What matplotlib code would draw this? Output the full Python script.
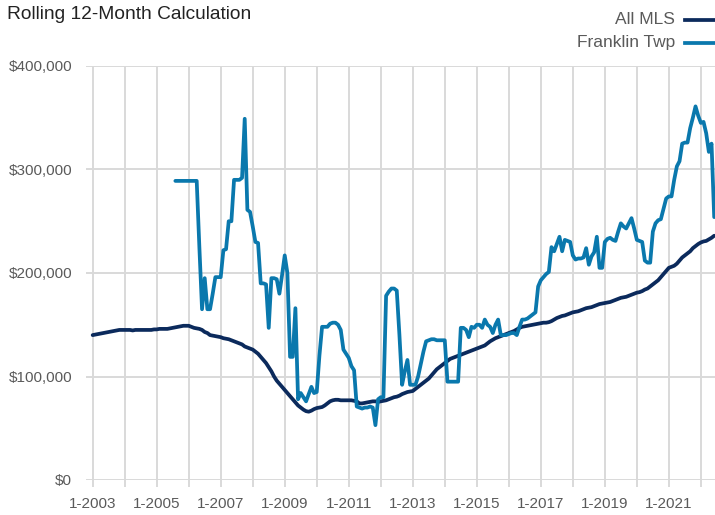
import numpy as np
import matplotlib
matplotlib.use("Agg")
import matplotlib.pyplot as plt
from matplotlib.lines import Line2D
from matplotlib.ticker import FixedLocator, FuncFormatter

# monthly values in $1000s, month index 0 = 1-2003
all_mls = [
    140, 140.5, 141, 141.5, 142, 142.5, 143, 143.5, 144, 144.5, 145, 145,          # 2003
    145, 145, 145, 144.5, 145, 145, 145, 145, 145, 145, 145, 145.5,                # 2004
    145.5, 146, 146, 146, 146, 146.5, 147, 147.5, 148, 148.5, 149, 149,            # 2005
    149, 148, 147, 146.5, 146, 145, 143, 142, 140, 139.5, 139, 138.5,              # 2006
    138, 137, 136.5, 136, 135, 134, 133, 132, 131, 129, 128, 127,                  # 2007
    126, 124, 122, 119, 116, 113, 109, 105, 100, 96, 93, 90,                       # 2008
    87, 84, 81, 78, 75, 72, 70, 68, 66.5, 66, 67, 68.5,                            # 2009
    69.5, 70, 70.5, 72, 74, 76, 77, 77.5, 77.5, 77, 77, 77,                        # 2010
    77, 77, 76.5, 76, 74, 74, 74.5, 75, 75.5, 76, 76, 75.5,                        # 2011
    76, 76.5, 77, 78, 79, 80, 80.5, 81.5, 83, 84, 85, 85.5,                        # 2012
    86, 88, 90, 92, 94, 96, 98, 101, 104, 107, 109, 111,                           # 2013
    113, 115, 117, 118, 119, 120, 121, 122, 123, 124, 125, 126,                    # 2014
    127, 128, 129, 130, 132, 134, 135.5, 137, 138, 139, 140, 141,                  # 2015
    142, 143, 144, 145.5, 147, 148, 148.5, 149, 149.5, 150, 150.5, 151,            # 2016
    151.5, 152, 152, 152.5, 153.5, 155, 156.5, 157.5, 158.5, 159, 160, 161,        # 2017
    162, 162.5, 163, 164, 165, 166, 166.5, 167, 168, 169, 170, 170.5,              # 2018
    171, 171.5, 172, 173, 174, 175, 176, 176.5, 177, 178, 179, 180,                # 2019
    181, 181.5, 182.5, 184, 185, 187, 189, 191, 193, 196, 199, 202,                # 2020
    205, 206, 207, 209, 212, 215, 217, 219, 221, 224, 226, 228,                    # 2021
    229.5, 230.5, 231, 232.5, 234, 236,                                            # 2022
]

franklin_start = 31  # 8-2005
franklin = [
    289, 289, 289, 289, 289,                                                       # 2005
    289, 289, 289, 289, 225, 165, 195, 165, 165, 180, 196, 196,                    # 2006
    196, 222, 223, 250, 250, 290, 290, 290, 292, 349, 261, 259,                    # 2007
    245, 230, 229, 190, 190, 189, 147, 195, 195, 194, 180, 198,                    # 2008
    217, 200, 119, 119, 166, 78, 84, 80, 76, 83, 90, 84,                           # 2009
    85, 120, 148, 148, 148, 151, 152, 152, 150, 145, 126, 122,                     # 2010
    118, 110, 106, 71, 70, 69, 70, 70, 71, 70, 53, 78,                             # 2011
    80, 80, 178, 182, 185, 185, 183, 140, 92, 105, 116, 92,                        # 2012
    92, 92, 100, 112, 124, 134, 135, 136, 136, 135, 135, 135,                      # 2013
    135, 95, 95, 95, 95, 95, 147, 147, 145, 138, 148, 147,                         # 2014
    150, 150, 147, 155, 150, 148, 142, 150, 155, 140, 140, 140,                    # 2015
    141, 142, 142, 140, 148, 155, 155, 156, 158, 160, 162, 187,                    # 2016
    193, 196, 199, 201, 225, 221, 228, 235, 221, 232, 231, 230,                    # 2017
    217, 213, 214, 214, 215, 224, 208, 216, 220, 235, 205, 205,                    # 2018
    230, 233, 234, 232, 231, 240, 248, 245, 243, 248, 253, 243,                    # 2019
    232, 231, 230, 212, 210, 210, 240, 248, 251, 252, 262, 272,                    # 2020
    274, 274, 290, 303, 308, 325, 326, 326, 340, 350, 361, 352,                    # 2021
    345, 346, 335, 317, 325, 254,                                                  # 2022
]

years = list(range(2003, 2023))
label_years = [2003, 2005, 2007, 2009, 2011, 2013, 2015, 2017, 2019, 2021]
series_names = ["All MLS", "Franklin Twp"]
colors = ["#0b2a5c", "#0a78ad"]

plt.rcParams['font.family'] = ['Liberation Sans', 'DejaVu Sans']

W, H = 715, 515
fig = plt.figure(figsize=(W / 100, H / 100), dpi=100)
ax = fig.add_axes([86 / W, 35 / H, (W - 86) / W, (480 - 66) / H])

x_all = np.arange(len(all_mls))
x_fr = np.arange(franklin_start, franklin_start + len(franklin))
ax.plot(x_all, np.array(all_mls) * 1000, color=colors[0], lw=2.7,
        solid_joinstyle='round', solid_capstyle='round', zorder=3)
ax.plot(x_fr, np.array(franklin) * 1000, color=colors[1], lw=2.7,
        solid_joinstyle='round', solid_capstyle='round', zorder=4)

ax.set_xlim(-2.5, 233.3)
ax.set_ylim(0, 400000)

year_pos = [(y - 2003) * 12 for y in years]
label_pos = [(y - 2003) * 12 for y in label_years]
ax.xaxis.set_major_locator(FixedLocator(label_pos))
ax.xaxis.set_minor_locator(FixedLocator([p for p in year_pos if p not in label_pos]))
ax.set_xticklabels(["1-%d" % y for y in label_years])
ax.set_yticks([0, 100000, 200000, 300000, 400000])
ax.yaxis.set_major_formatter(FuncFormatter(lambda v, p: "${:,.0f}".format(v)))

grid_c = "#d9d9d9"
ax.grid(True, which='both', axis='x', color=grid_c, lw=1.4)
ax.grid(True, which='major', axis='y', color=grid_c, lw=1.4)
ax.set_axisbelow(True)
for s in ax.spines.values():
    s.set_visible(False)
ax.tick_params(axis='x', which='both', length=5, width=1.4, color=grid_c,
               pad=7.5, labelsize=11, labelcolor="#5a5a5a")
ax.tick_params(axis='y', length=0, pad=10, labelsize=11, labelcolor="#5a5a5a")

fig.text(7 / W, 1 - 19 / H, "Rolling 12-Month Calculation", fontsize=13.8,
         color="#222222", va='baseline', ha='left')

# legend, top right
for i, (name, c) in enumerate(zip(series_names, colors)):
    yy = 1 - (20 + 23 * i) / H
    fig.text(675 / W, yy, name, fontsize=12.5, color="#5a5a5a", ha='right', va='center')
    fig.add_artist(Line2D([685 / W, 1.0], [yy, yy], transform=fig.transFigure,
                          color=c, lw=2.7))

fig.savefig("out.png", dpi=100)
